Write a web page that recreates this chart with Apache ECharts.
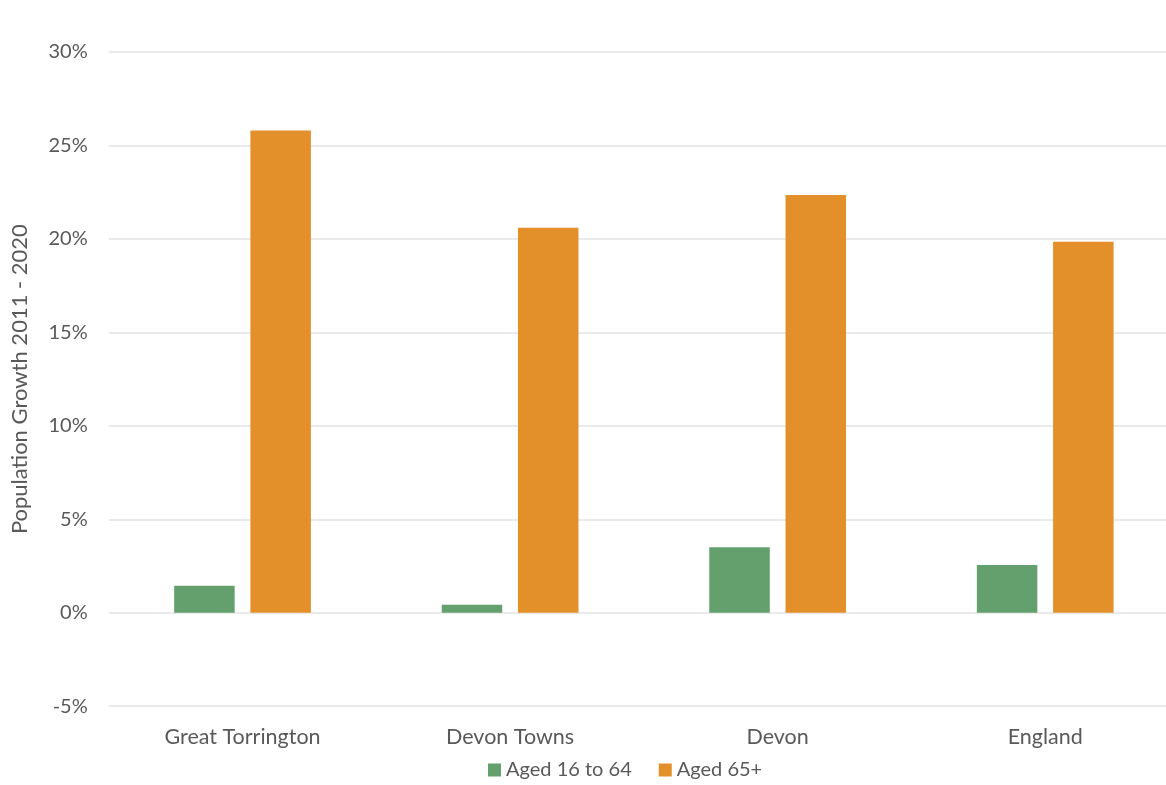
<!DOCTYPE html>
<html>
<head>
<meta charset="utf-8">
<script src="https://cdn.jsdelivr.net/npm/echarts@6/dist/echarts.min.js"></script>
<style>
  html, body { margin: 0; padding: 0; background: #ffffff; overflow: hidden; }
  /* the drawing surface is a little wider than the window, so the last category runs off the right edge */
  #chart { width: 1179px; height: 785px; }
</style>
</head>
<body>
<div id="chart"></div>
<script>
// Population growth 2011-2020 by area and age band (percent)
const categories = ['Great Torrington', 'Devon Towns', 'Devon', 'England'];
const aged16to64 = [1.45, 0.43, 3.5, 2.55];
const aged65plus = [25.8, 20.6, 22.35, 19.85];
const seriesNames = ['Aged 16 to 64', 'Aged 65+'];

const textColor = '#595959';
const fontFamily = 'Lato, "Open Sans", sans-serif';

const chart = echarts.init(document.getElementById('chart'), null, { renderer: 'canvas' });

chart.setOption({
  animation: false,
  backgroundColor: '#ffffff',
  textStyle: { fontFamily: fontFamily },
  grid: { left: 108.75, right: 0, top: 52, bottom: 78.8, containLabel: false },
  legend: {
    data: seriesNames,
    top: 755,
    left: 483,
    itemWidth: 13,
    itemHeight: 13,
    itemGap: 27,
    icon: 'rect',
    textStyle: { color: textColor, fontSize: 20, fontFamily: fontFamily }
  },
  xAxis: {
    type: 'category',
    data: categories,
    axisLine: { show: false },
    axisTick: { show: false },
    axisLabel: { color: textColor, fontSize: 21.5, margin: 20, fontFamily: fontFamily }
  },
  yAxis: {
    type: 'value',
    min: -5,
    max: 30,
    interval: 5,
    name: 'Population Growth 2011 - 2020',
    nameLocation: 'middle',
    nameGap: 78,
    nameTextStyle: { color: textColor, fontSize: 22, fontFamily: fontFamily },
    axisLine: { show: false },
    axisTick: { show: false },
    axisLabel: {
      color: textColor,
      fontSize: 20,
      margin: 21,
      fontFamily: fontFamily,
      formatter: v => v + '%'
    },
    splitLine: { lineStyle: { color: '#e3e3e3', width: 1.5 } }
  },
  series: [
    {
      name: seriesNames[0],
      type: 'bar',
      data: aged16to64,
      barWidth: 60.5,
      barGap: '26%',
      itemStyle: { color: '#63a06d' }
    },
    {
      name: seriesNames[1],
      type: 'bar',
      data: aged65plus,
      barWidth: 60.5,
      barGap: '26%',
      itemStyle: { color: '#e3902a' }
    }
  ]
});
</script>
</body>
</html>
